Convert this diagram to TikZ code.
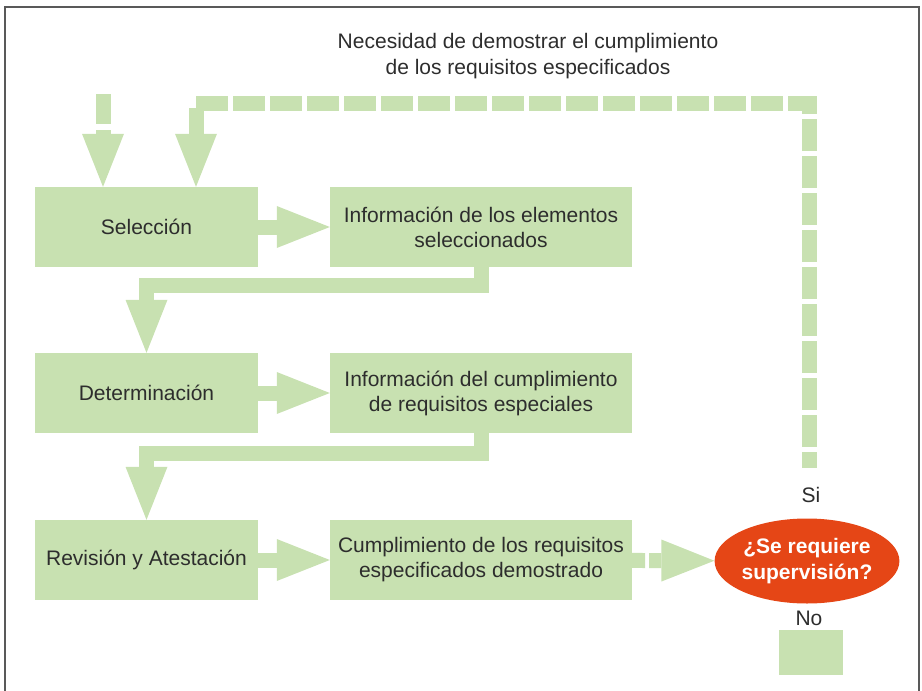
\documentclass[tikz,border=0pt]{standalone}
\usepackage{fontspec}
\setmainfont{Liberation Sans}
\usetikzlibrary{arrows.meta,positioning,shapes.geometric}
\definecolor{boxgreen}{RGB}{200,225,177}
\definecolor{askred}{RGB}{229,70,22}
\definecolor{txtgray}{RGB}{45,45,45}
\begin{document}
\begin{tikzpicture}[x = 1pt, y = -1pt,
  every node/.style = {text = txtgray, font = \fontsize{21}{27}\selectfont},
  box/.style = {fill = boxgreen, minimum width = 223pt, minimum height = 80pt, inner sep = 0pt, align = center},
  widebox/.style = {box, minimum width = 302pt},
  flowarrow/.style = {draw = boxgreen, line width = 15pt, line join = miter,
    -{Triangle[width = 42pt, length = 53pt, line width = 0pt]}},
  dashflow/.style = {flowarrow, dash pattern = on 31pt off 6pt}]
\useasboundingbox (0, 0) rectangle (922, 691);
\draw[line width = 2pt, black!65] (4.5, 691) -- (4.5, 7) -- (919, 7) -- (919, 691);

\node[align = center, font = \fontsize{21}{26}\selectfont] (need) at (528, 56)
  {Necesidad de demostrar el cumplimiento\\de los requisitos especificados};

\node[box] (sel) at (146.5, 227) {\raisebox{-2pt}{Selección}};
\node[widebox] (infoA) at (481, 227) {\raisebox{-2pt}{Información de los elementos}\\seleccionados};
\node[box] (det) at (146.5, 393) {\raisebox{-2pt}{Determinación}};
\node[widebox] (infoB) at (481, 393) {\raisebox{-2pt}{Información del cumplimiento}\\de requisitos especiales};
\node[box] (rev) at (146.5, 560) {\raisebox{-2pt}{Revisión y Atestación}};
\node[widebox] (cum) at (481, 560) {\raisebox{-2pt}{Cumplimiento de los requisitos}\\especificados demostrado};

\node[ellipse, fill = askred, minimum width = 142pt, minimum height = 85pt, inner sep = 0pt,
  text = white, align = center, font = \fontsize{21}{26}\selectfont\bfseries] (ask) at (807, 561)
  {¿Se requiere\\supervisión?};
\node (si) at (811, 495) {Si};
\node (no) at (809, 618) {No};
\node[fill = boxgreen, minimum width = 64pt, minimum height = 45pt, inner sep = 0pt] (nobox) at (811, 652.5) {};

\coordinate (inA) at (103, 94);
\coordinate (inB) at (196, 103);
\coordinate (siend) at (809, 468);

\draw[flowarrow, dash pattern = on 30pt off 6pt] (inA) -- (inA |- sel.north);
\draw[dashflow, dash pattern = on 32pt off 5pt, dash phase = 16pt] (siend) |- (inB) -- (inB |- sel.north);

\draw[flowarrow] (sel) -- (infoA);
\draw[flowarrow] (det) -- (infoB);
\draw[flowarrow] (rev) -- (cum);
\draw[flowarrow] (infoA.south) -- ++(0, 18) -| (det.north);
\draw[flowarrow] (infoB.south) -- ++(0, 20) -| (rev.north);
\draw[flowarrow, dash pattern = on 13pt off 4pt on 28pt off 5pt] (cum) -- (ask);
\end{tikzpicture}
\end{document}
